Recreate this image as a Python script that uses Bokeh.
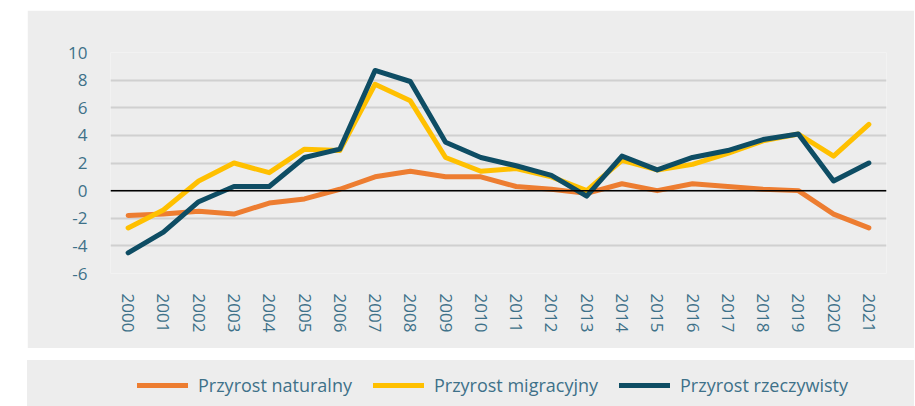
from bokeh.plotting import figure
from bokeh.models import (FixedTicker, Span, Legend, LegendItem, FactorRange, Range1d)
from bokeh.layouts import column
from bokeh.embed import file_html
from bokeh.resources import INLINE

years = [str(y) for y in range(2000, 2022)]
naturalny = [-1.8, -1.7, -1.5, -1.7, -0.9, -0.6, 0.1, 1.0, 1.4, 1.0, 1.0, 0.3, 0.1, -0.2,
             0.5, 0.0, 0.5, 0.3, 0.1, 0.0, -1.7, -2.7]
migracyjny = [-2.7, -1.4, 0.7, 2.0, 1.3, 3.0, 2.9, 7.7, 6.5, 2.4, 1.4, 1.6, 1.0, 0.0,
              2.2, 1.5, 1.9, 2.7, 3.6, 4.1, 2.5, 4.8]
rzeczywisty = [-4.5, -3.0, -0.8, 0.3, 0.3, 2.4, 3.0, 8.7, 7.9, 3.5, 2.4, 1.8, 1.1, -0.4,
               2.5, 1.5, 2.4, 2.9, 3.7, 4.1, 0.7, 2.0]
y_ticks = [-6, -4, -2, 0, 2, 4, 6, 8, 10]
series_names = ["Przyrost naturalny", "Przyrost migracyjny", "Przyrost rzeczywisty"]
colors = ["#ED7D31", "#FFC000", "#0E4D64"]

BG = "#EDEDED"
TXT = "#3E7189"
FONT = "Open Sans"

p = figure(width=887, height=338, x_range=FactorRange(*years, range_padding=0),
           y_range=Range1d(-6, 10), output_backend="svg", toolbar_location=None,
           background_fill_color=BG, border_fill_color=BG,
           min_border_left=83, min_border_right=28, min_border_top=42, min_border_bottom=75)
p.margin = (10, 0, 0, 27)
p.outline_line_color = None
p.xgrid.grid_line_color = None
p.ygrid.grid_line_color = "#D0D0D0"
p.ygrid.grid_line_width = 2
p.yaxis.ticker = FixedTicker(ticks=y_ticks)
p.yaxis.major_label_overrides = {t: str(t) for t in y_ticks}
for ax in (p.xaxis[0], p.yaxis[0]):
    ax.axis_line_color = None
    ax.major_tick_line_color = None
    ax.minor_tick_line_color = None
    ax.major_tick_in = 0
    ax.major_tick_out = 0
    ax.major_label_text_color = TXT
    ax.major_label_text_font = FONT
    ax.major_label_text_font_size = "17px"
p.yaxis.major_label_standoff = 23
p.xaxis.major_label_standoff = 20
p.xaxis.major_label_orientation = "vertical"

p.add_layout(Span(location=0, dimension="width", line_color="black", line_width=1.5))

for vals, c in zip([naturalny, migracyjny, rzeczywisty], colors):
    p.line(years, vals, line_color=c, line_width=5, line_join="round", line_cap="round")

# legend panel (its frame is aligned with the main frame by the column layout)
p2 = figure(width=887, height=46, output_backend="svg", toolbar_location=None,
            background_fill_color=None, border_fill_color=None,
            x_range=Range1d(0, 1), y_range=Range1d(0, 1),
            min_border_left=83, min_border_right=28, min_border_top=0, min_border_bottom=0,
            x_axis_location=None, y_axis_location=None, tools="")
p2.styles = {"background-color": BG}
p2.margin = (12, 0, 0, 27)
p2.outline_line_color = None
p2.grid.visible = False
items = []
for name, c in zip(series_names, colors):
    r = p2.line([float("nan")], [float("nan")], line_color=c, line_width=5, line_cap="round")
    items.append(LegendItem(label=name, renderers=[r]))
leg = Legend(items=items, orientation="horizontal", location=(27, 9),
             glyph_width=51, glyph_height=20, label_standoff=10, spacing=21,
             padding=0, margin=0, border_line_color=None,
             background_fill_color=None,
             label_text_color=TXT, label_text_font=FONT, label_text_font_size="18px",
             label_height=20)
p2.add_layout(leg)

layout = column(p, p2)
open("out.html", "w").write(file_html(layout, INLINE))
